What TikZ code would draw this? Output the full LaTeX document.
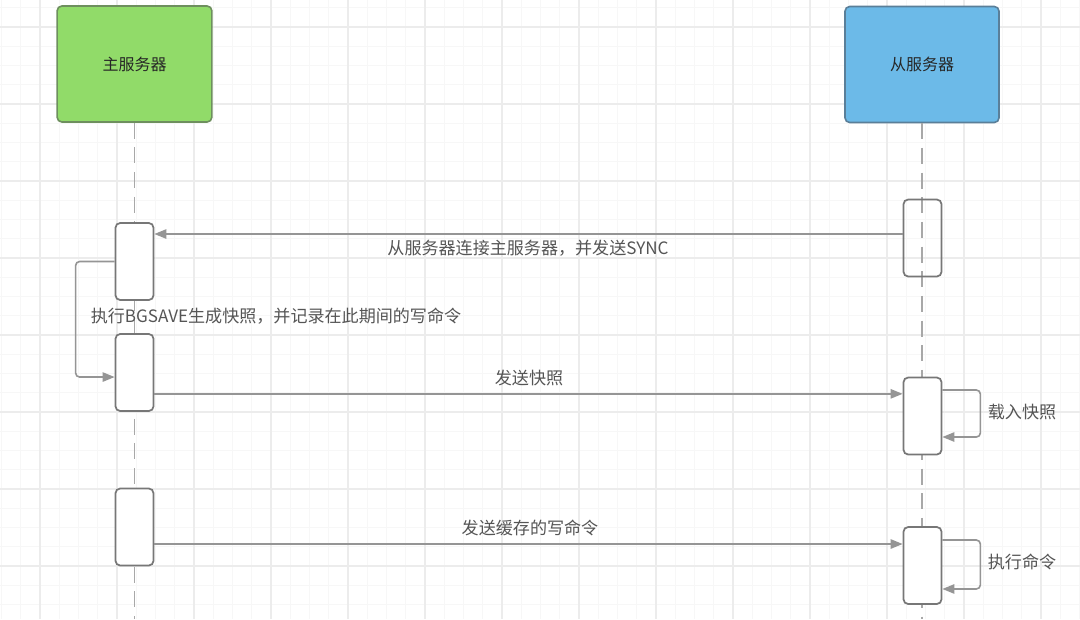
\documentclass[tikz,border=0pt]{standalone}
\usepackage{fontspec}
\setmainfont{Noto Sans CJK SC}
\usetikzlibrary{arrows.meta}
\definecolor{gridminor}{HTML}{F7F7F7}
\definecolor{gridmajor}{HTML}{ECECEC}
\definecolor{mastergreen}{HTML}{91DB69}
\definecolor{masteredge}{HTML}{6E8F5E}
\definecolor{slaveblue}{HTML}{6CBAE8}
\definecolor{slaveedge}{HTML}{5A7F99}
\definecolor{boxedge}{HTML}{777777}
\definecolor{msgline}{HTML}{959595}
\definecolor{lifecol}{HTML}{A8A8A8}
\definecolor{labelcol}{HTML}{555555}
\tikzset{
  minorgrid/.style={draw=gridminor, line width=0.6pt},
  majorgrid/.style={draw=gridmajor, line width=0.8pt},
  actor/.style={rectangle, rounded corners=3.5pt, line width=1.2pt,
    minimum width=116pt, minimum height=87pt, inner sep=0pt,
    font=\fontsize{12}{14}\selectfont, text=black!85},
  actbox/.style={rectangle, rounded corners=3.5pt, draw=boxedge, line width=1.3pt,
    minimum width=28.5pt, minimum height=57.75pt, inner sep=0pt},
  lifeline/.style={draw=lifecol, line width=1.1pt, dash pattern=on 12pt off 6.5pt},
  msg/.style={draw=msgline, line width=1.2pt, -{Triangle[length=9pt,width=7pt]}},
  lbl/.style={text=labelcol, font=\fontsize{12.8}{15}\selectfont, inner sep=0pt},
}
\begin{document}
\begin{tikzpicture}[x=0.75pt,y=-0.75pt]
\useasboundingbox (0,0) rectangle (1080,619);
\fill[white] (0,0) rectangle (1080,619);
% grid
\foreach \i in {-2,...,54} \draw[minorgrid] ({40+19.25*\i},0) -- ({40+19.25*\i},619);
\foreach \j in {-1,...,31} \draw[minorgrid] (0,{27+19.25*\j}) -- (1080,{27+19.25*\j});
\foreach \i in {0,...,13} \draw[majorgrid] ({40+77*\i},0) -- ({40+77*\i},619);
\foreach \j in {0,...,7} \draw[majorgrid] (0,{27+77*\j}) -- (1080,{27+77*\j});

% actors
\node[actor, fill=mastergreen, draw=masteredge] (m) at (134.5,64) {主服务器};
\node[actor, fill=slaveblue, draw=slaveedge, minimum width=115.5pt] (s) at (922,64.5) {从服务器};

\coordinate (mend) at (134.5,619);
\coordinate (send) at (922,619);
\draw[lifeline] (m.south) -- (mend);
\draw[lifeline] (s.south) -- (send);

% activation boxes
\node[actbox, fill=white] (a1) at (134.5,261.5) {};
\node[actbox, fill=white] (a2) at (134.5,372.5) {};
\node[actbox, fill=white] (a3) at (134.5,527) {};
\node[actbox] (b1) at (922.5,238) {};
\node[actbox, fill=white] (b2) at (922.5,416) {};
\node[actbox, fill=white] (b3) at (922.5,565.5) {};

% messages
\draw[msg] ([yshift=3pt]b1.west) -- ([yshift=3pt]b1.west -| a1.east);
\node[lbl] (l1) at (528,248) {从服务器连接主服务器，并发送SYNC};

\draw[msg, rounded corners=3pt] (a1.west) -- ++(-39,0) |- ([yshift=-3.4pt]a2.west);
\node[lbl] (l2) at (276,316) {执行BGSAVE生成快照，并记录在此期间的写命令};

\draw[msg] ([yshift=-16pt]a2.east) -- ([yshift=-16pt]a2.east -| b2.west);
\node[lbl] (l3) at (529,378) {发送快照};

\draw[msg, rounded corners=3pt] ([yshift=19.5pt]b2.east) -- ++(38,0) |- ([yshift=-15.75pt]b2.east);
\node[lbl] (l4) at (1022,412) {载入快照};

\draw[msg] ([yshift=-12.75pt]a3.east) -- ([yshift=-12.75pt]a3.east -| b3.west);
\node[lbl] (l5) at (530,528) {发送缓存的写命令};

\draw[msg, rounded corners=3pt] ([yshift=19.1pt]b3.east) -- ++(38,0) |- ([yshift=-17.6pt]b3.east);
\node[lbl] (l6) at (1022,562) {执行命令};
\end{tikzpicture}
\end{document}
